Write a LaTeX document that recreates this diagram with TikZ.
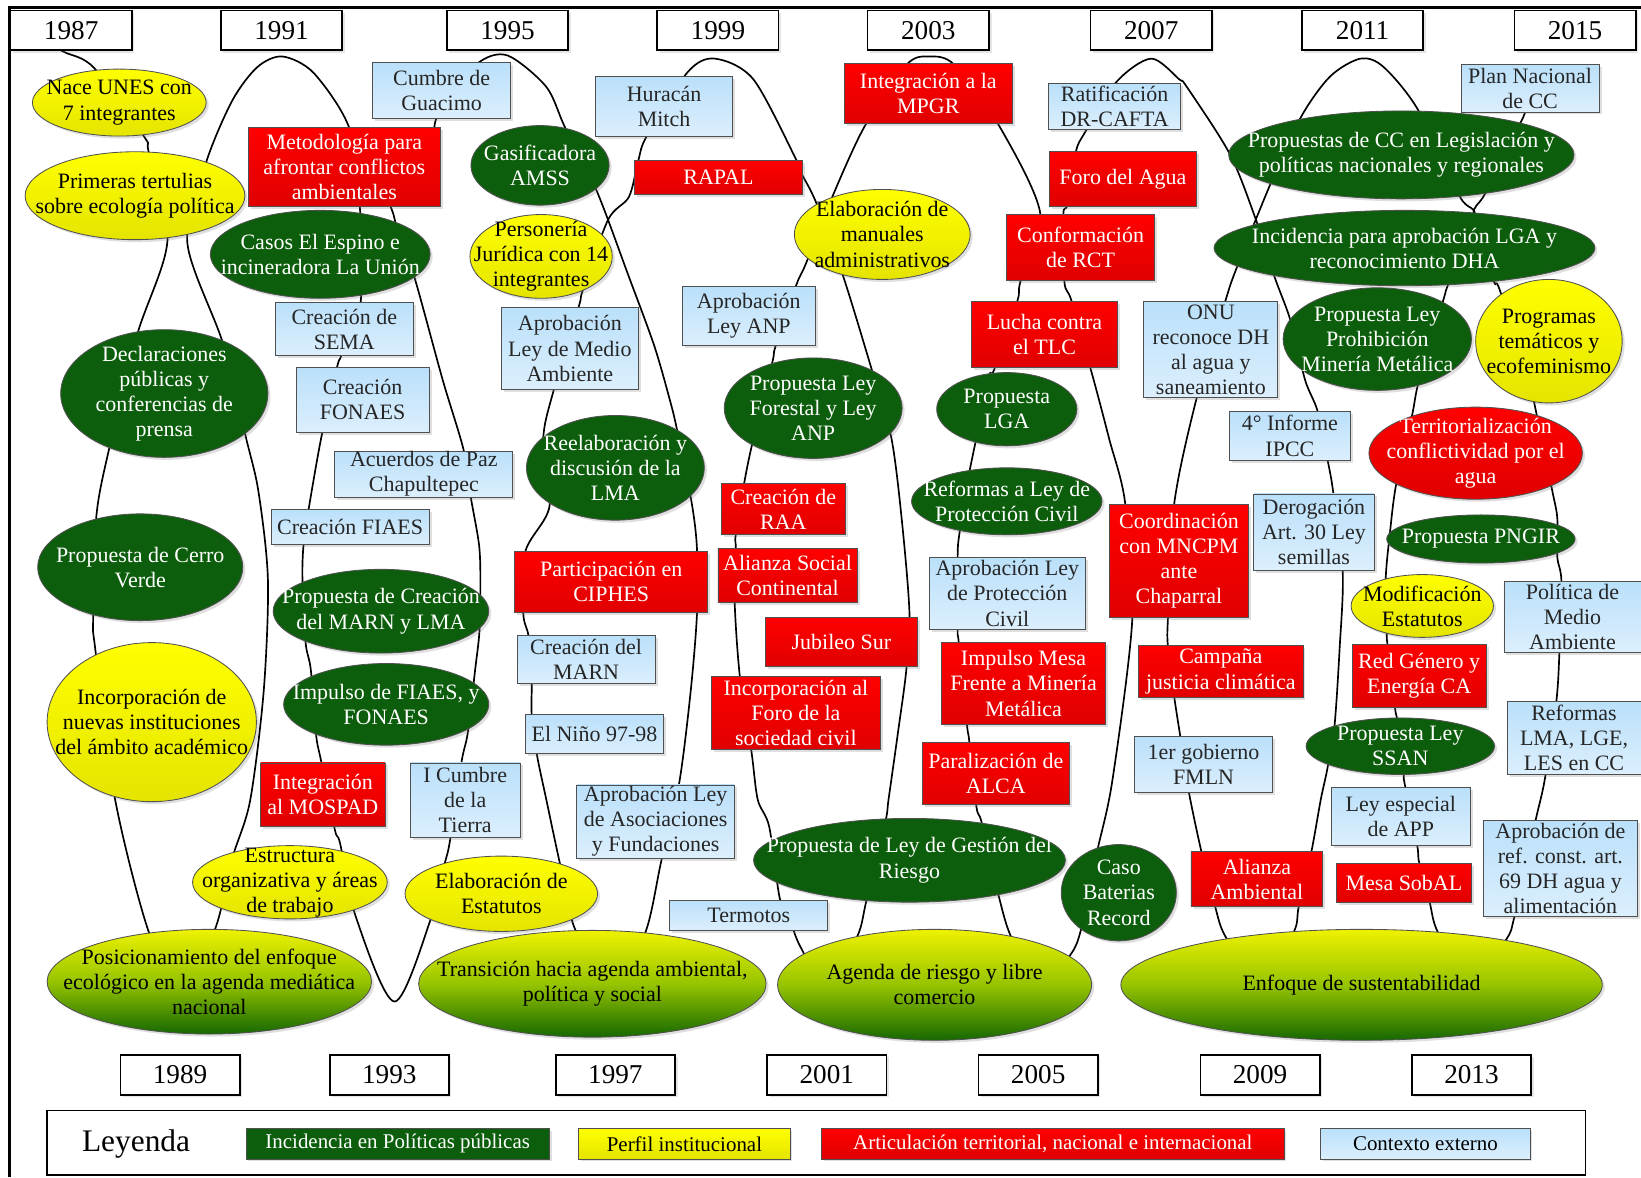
\documentclass[tikz,border=0pt]{standalone}
\usepackage{fontspec}
\setmainfont{Liberation Serif}
\usetikzlibrary{shapes.geometric,shadows}
\pgfdeclarelayer{bg}
\pgfsetlayers{bg,main}
\definecolor{dg}{RGB}{12,94,12}
\definecolor{bd}{RGB}{80,80,80}
\definecolor{yA}{RGB}{255,255,0}
\definecolor{yB}{RGB}{228,228,0}
\definecolor{rA}{RGB}{255,0,0}
\definecolor{rB}{RGB}{224,0,0}
\definecolor{bA}{RGB}{186,224,250}
\definecolor{bB}{RGB}{220,239,253}
\definecolor{gA}{RGB}{238,242,0}
\definecolor{gB}{RGB}{150,196,0}
\definecolor{gC}{RGB}{22,104,0}
\tikzset{
 base/.style={align=center, inner sep=0pt, font=\fontsize{10.5}{12}\selectfont,
   drop shadow={shadow xshift=1.2pt, shadow yshift=-1.2pt, opacity=0.25}},
 txt/.style={align=center, inner sep=0pt, font=\fontsize{10.5}{12}\selectfont},
 sz/.style 2 args={minimum width=#1*0.5pt, minimum height=#2*0.5pt},
 gn/.style={base, ellipse, fill=dg, draw=bd, line width=0.4pt},
 gntxt/.style={txt, text=white},
 yn/.style={base, ellipse, top color=yA, bottom color=yB, draw=bd, line width=0.4pt},
 yntxt/.style={txt, text=black},
 re/.style={base, ellipse, top color=rA, bottom color=rB, draw=bd, line width=0.4pt},
 retxt/.style={txt, text=white},
 big/.style={base, ellipse, top color=gA, bottom color=gC, middle color=gB, draw=bd, line width=0.4pt},
 bigtxt/.style={txt, text=black},
 rn/.style={base, rectangle, top color=rA, bottom color=rB, draw=bd, line width=0.4pt, text=white},
 bn/.style={base, rectangle, top color=bA, bottom color=bB, draw=bd, line width=0.4pt, text=black!85},
 yr/.style={rectangle, draw=black, line width=0.8pt, fill=white, font=\fontsize{13}{15}\selectfont,
   inner sep=0pt, drop shadow={shadow xshift=1.2pt, shadow yshift=-1.2pt, opacity=0.2}},
 lg/.style={rectangle, draw=bd, line width=0.4pt, inner sep=0pt, font=\fontsize{10}{12}\selectfont,
   minimum height=14pt, drop shadow={shadow xshift=1pt, shadow yshift=-1pt, opacity=0.25}},
 wave/.style={line width=0.8pt, black}
}
% ellipse of fixed size with its text on top
\newcommand\mkell[7]{%
  \node[#1, sz={#5}{#6}] (#2) at (#3,#4) {};
  \node[#1txt] (#2t) at (#3,#4) {#7};}
\begin{document}
\begin{tikzpicture}[x={(0.5pt,0)}, y={(0,-0.5pt)}]
\useasboundingbox (0,0) rectangle (1568,1125);
\draw[line width=1.6pt] (9,1125) -- (9,7) -- (1568,7);

% year boxes top
\foreach \n/\x/\t in {y87/68/1987, y91/269/1991, y95/485/1995, y99/686/1999, y03/887/2003, y07/1100/2007, y11/1302/2011, y15/1505/2015}
  \node[yr, sz={116}{38}] (\n) at (\x,29) {\t};
\foreach \n/\x/\t in {y89/172/1989, y93/372/1993, y97/588/1997, y01/790/2001, y05/992/2005, y09/1204/2009, y13/1406/2013}
  \node[yr, sz={114}{38}] (\n) at (\x,1027) {\t};

% legend
\draw[line width=0.8pt] (45,1061) rectangle (1515,1123);
\node[font=\fontsize{15}{17}\selectfont] (leg) at (130,1093) {Leyenda};
\node[lg, fill=dg, text=white, sz={290}{29}] (lgg) at (380,1093) {Incidencia en Políticas públicas};
\node[lg, top color=yA, bottom color=yB, sz={202}{29}] (lgy) at (654,1093) {Perfil institucional};
\node[lg, top color=rA, bottom color=rB, text=white, sz={442}{29}] (lgr) at (1006,1093) {Articulación territorial, nacional e internacional};
\node[lg, top color=bA, bottom color=bB, sz={200}{29}] (lgb) at (1362,1093) {Contexto externo};

% yellow ellipses
\mkell{yn}{nace}{114}{98}{166}{64}{Nace UNES con\\7 integrantes}
\mkell{yn}{prim}{129}{187}{210}{84}{Primeras tertulias\\sobre ecología política}
\mkell{yn}{inc}{145}{690}{200}{152}{Incorporación de\\nuevas instituciones\\del ámbito académico}
\mkell{yn}{estr}{277}{843}{186}{70}{Estructura\\organizativa y áreas\\de trabajo}
\mkell{yn}{elab}{479}{854}{184}{72}{Elaboración de\\Estatutos}
\mkell{yn}{pers}{517}{245}{136}{80}{Personería\\Jurídica con 14\\integrantes}
\mkell{yn}{manu}{843}{224}{168}{86}{Elaboración de\\manuales\\administrativos}
\mkell{yn}{modi}{1359}{579}{136}{60}{Modificación\\Estatutos}
\mkell{yn}{prog}{1480}{326}{140}{118}{Programas\\temáticos y\\ecofeminismo}

% green ellipses
\mkell{gn}{decl}{157}{376}{198}{122}{Declaraciones\\públicas y\\conferencias de\\prensa}
\mkell{gn}{cerro}{134}{542}{196}{102}{Propuesta de Cerro\\Verde}
\mkell{gn}{casos}{306}{243}{210}{84}{Casos El Espino e\\incineradora La Unión}
\mkell{gn}{gasi}{516}{158}{132}{76}{Gasificadora\\AMSS}
\mkell{gn}{pmarn}{364}{584}{206}{80}{Propuesta de Creación\\del MARN y LMA}
\mkell{gn}{impf}{369}{673}{196}{78}{Impulso de FIAES, y\\FONAES}
\mkell{gn}{reel}{588}{447}{170}{100}{Reelaboración y\\discusión de la\\LMA}
\mkell{gn}{fore}{777}{390}{170}{96}{Propuesta Ley\\Forestal y Ley\\ANP}
\mkell{gn}{lga}{962}{391}{134}{70}{Propuesta\\LGA}
\mkell{gn}{refo}{962}{479}{182}{64}{Reformas a Ley de\\Protección Civil}
\mkell{gn}{gest}{869}{822}{298}{80}{Propuesta de Ley de Gestión del\\Riesgo}
\mkell{gn}{caso}{1069}{853}{110}{92}{Caso\\Baterias\\Record}
\mkell{gn}{pcc}{1339}{148}{330}{84}{Propuestas de CC en Legislación y\\políticas nacionales y regionales}
\mkell{gn}{incid}{1342}{237}{364}{72}{Incidencia para aprobación LGA y\\reconocimiento DHA}
\mkell{gn}{proh}{1316}{324}{180}{98}{Propuesta Ley\\Prohibición\\Minería Metálica}
\mkell{gn}{pngir}{1415}{515}{180}{46}{Propuesta PNGIR}
\mkell{gn}{ssan}{1338}{713}{180}{54}{Propuesta Ley\\SSAN}

% red ellipse
\mkell{re}{terr}{1410}{433}{204}{88}{Territorialización\\conflictividad por el\\agua}

% red boxes
\node[rn, sz={184}{75}] (meto) at (329,159.5) {Metodología para\\afrontar conflictos\\ambientales};
\node[rn, sz={119}{61}] (mosp) at (308.5,759.5) {Integración\\al MOSPAD};
\node[rn, sz={184}{58}] (ciph) at (584,556) {Participación en\\CIPHES};
\node[rn, sz={161}{33}] (rapal) at (686.5,169.5) {RAPAL};
\node[rn, sz={119}{49}] (raa) at (748.5,486.5) {Creación de\\RAA};
\node[rn, sz={133}{52}] (asc) at (752.5,550) {Alianza Social\\Continental};
\node[rn, sz={146}{47}] (jub) at (804,613.5) {Jubileo Sur};
\node[rn, sz={161}{70}] (foro) at (760.5,681) {Incorporación al\\Foro de la\\sociedad civil};
\node[rn, sz={160}{57}] (mpgr) at (887,89.5) {Integración a la\\MPGR};
\node[rn, sz={140}{63}] (tlc) at (998,319.5) {Lucha contra\\el TLC};
\node[rn, sz={156}{78}] (mesa) at (978,653) {Impulso Mesa\\Frente a Minería\\Metálica};
\node[rn, sz={141}{60}] (alca) at (951.5,739) {Paralización de\\ALCA};
\node[rn, sz={140}{52}] (fagua) at (1073,171) {Foro del Agua};
\node[rn, sz={141}{63}] (rct) at (1032.5,236.5) {Conformación\\de RCT};
\node[rn, sz={133}{108}] (coord) at (1126.5,536) {Coordinación\\con MNCPM\\ante\\Chaparral};
\node[rn, sz={157}{49}] (camp) at (1166.5,641.5) {Campaña\\justicia climática};
\node[rn, sz={126}{52}] (alam) at (1201,840) {Alianza\\Ambiental};
\node[rn, sz={128}{60}] (rgen) at (1356,646) {Red Género y\\Energía CA};
\node[rn, sz={129}{37}] (sobal) at (1341.5,843.5) {Mesa SobAL};

% blue boxes
\node[bn, sz={132}{53}] (guac) at (422,86.5) {Cumbre de\\Guacimo};
\node[bn, sz={132}{51}] (sema) at (329,314.5) {Creación de\\SEMA};
\node[bn, sz={127}{62}] (fonaes) at (346.5,382) {Creación\\FONAES};
\node[bn, sz={170}{44}] (paz) at (405,453) {Acuerdos de Paz\\Chapultepec};
\node[bn, sz={151}{33}] (fiaes) at (334.5,503.5) {Creación FIAES};
\node[bn, sz={105}{71}] (cumt) at (444.5,764.5) {I Cumbre\\de la\\Tierra};
\node[bn, sz={131}{78}] (lma) at (544.5,333) {Aprobación\\Ley de Medio\\Ambiente};
\node[bn, sz={132}{46}] (marn) at (560,630) {Creación del\\MARN};
\node[bn, sz={132}{37}] (nino) at (568,701.5) {El Niño 97-98};
\node[bn, sz={151}{70}] (asoc) at (626.5,785) {Aprobación Ley\\de Asociaciones\\y Fundaciones};
\node[bn, sz={131}{57}] (mitch) at (634.5,101.5) {Huracán\\Mitch};
\node[bn, sz={127}{56}] (anp) at (715.5,302) {Aprobación\\Ley ANP};
\node[bn, sz={151}{29}] (termo) at (715.5,874.5) {Termotos};
\node[bn, sz={149}{68}] (lpc) at (962.5,567) {Aprobación Ley\\de Protección\\Civil};
\node[bn, sz={126}{44}] (cafta) at (1065,102) {Ratificación\\DR-CAFTA};
\node[bn, sz={128}{92}] (onu) at (1157,334) {ONU\\reconoce DH\\al agua y\\saneamiento};
\node[bn, sz={115}{47}] (ipcc) at (1232.5,416.5) {4° Informe\\IPCC};
\node[bn, sz={115}{73}] (dero) at (1255.5,508.5) {Derogación\\Art. 30 Ley\\semillas};
\node[bn, sz={132}{53}] (fmln) at (1150,730.5) {1er gobierno\\FMLN};
\node[bn, sz={133}{56}] (app) at (1338.5,780) {Ley especial\\de APP};
\node[bn, sz={132}{45}] (pncc) at (1462,84.5) {Plan Nacional\\de CC};
\node[bn, sz={131}{67}] (pol) at (1502.5,589.5) {Política de\\Medio\\Ambiente};
\node[bn, sz={128}{70}] (rlma) at (1504,705) {Reformas\\LMA, LGE,\\LES en CC};
\node[bn, sz={148}{92}] (ref69) at (1491,830) {Aprobación de\\ref. const. art.\\69 DH agua y\\alimentación};

% big period ellipses
\mkell{big}{pos}{200}{938}{310}{100}{Posicionamiento del enfoque\\ecológico en la agenda mediática\\nacional}
\mkell{big}{tran}{566}{940}{332}{102}{Transición hacia agenda ambiental,\\política y social}
\mkell{big}{agen}{893}{941}{300}{106}{Agenda de riesgo y libre\\comercio}
\mkell{big}{enf}{1301}{941}{460}{106}{Enfoque de sustentabilidad}

% the wave behind the nodes
\begin{pgfonlayer}{bg}
\fill[white] (0,0) rectangle (1568,1125);
\draw[wave] plot[smooth, tension=0.5] coordinates {
(45,42) (62,50) (90,65) (138,131) (142,145) (160,230) (131,320) (104,430) (92,494) (89,591) (91,620) (110,764) (142,890) (172,942)
(205,889) (222,820) (239,765) (252,660) (256,554) (247,470) (235,418) (213,328) (179,232) (197,155) (222,96) (246,64) (270,54)
(300,70) (334,123) (344,200) (345,284) (338,305) (326,340) (322,351) (307,418) (295,486) (290,521) (289,554) (292,614) (297,640) (302,702) (307,728) (320,793) (325,806) (340,876) (377,957)
(412,877) (425,825) (430,803) (441,728) (447,700) (454,640) (458,605) (459,567) (458,523) (450,476) (443,430) (423,363) (396,265) (384,235) (376,205) (372,186) (392,150) (413,126) (416,116) (424,98) (457,60) (485,53)
(522,83) (540,122) (570,182) (600,262) (625,330) (640,382) (647,411) (661,481) (666,525) (666,586) (660,660) (649,748) (632,822) (617,890) (588,942)
(550,889) (535,825) (522,764) (513,721) (508,682) (508,651) (505,608) (500,586) (502,527) (525,484) (519,420) (529,373) (553,293) (557,277) (581,210) (601,188) (610,153) (618,130) (657,69) (683,56)
(720,76) (761,153) (766,166) (780,194) (806,265) (835,360) (852,420) (862,500) (869,586) (866,640) (858,700) (849,764) (846,785) (828,860) (819,895) (790,942)
(765,905) (755,880) (745,858) (735,790) (724,764) (718,718) (707,647) (702,576) (703,524) (703,511) (711,462) (719,423) (738,346) (741,331) (761,272) (770,252) (794,191) (826,121) (866,62) (888,54)
(912,62) (954,119) (994,204) (975,269) (972,288) (950,353) (945,360) (932,423) (927,447) (917,508) (915,532) (915,602) (916,613) (924,693) (926,707) (933,771) (938,786) (954,855) (966,895) (992,942)
(1023,912) (1034,884) (1048,815) (1063,745) (1082,590) (1075,480) (1060,420) (1045,363) (1024,288) (1017,269) (1016,205) (1020,195) (1028,145) (1037,126) (1067,78) (1100,56)
(1127,76) (1134,83) (1175,147) (1199,207) (1218,265) (1233,306) (1247,363) (1259,393) (1269,442) (1274,471) (1283,547) (1280,620) (1275,695) (1268,736) (1262,764) (1253,814) (1241,866) (1236,891) (1204,942)
(1171,895) (1161,866) (1148,814) (1136,757) (1128,705) (1122,666) (1116,618) (1116,590) (1122,481) (1143,382) (1171,287) (1182,255) (1213,178) (1243,112) (1271,73) (1300,56)
(1322,64) (1355,105) (1395,188) (1409,207) (1384,271) (1379,287) (1356,363) (1349,398) (1334,463) (1328,510) (1324,554) (1325,605) (1326,618) (1333,677) (1335,688) (1341,739) (1342,748) (1354,807) (1356,824) (1366,862) (1374,891) (1406,942)
(1439,898) (1447,876) (1467,785) (1476,745) (1487,671) (1490,624) (1492,556) (1488,532) (1488,495) (1483,468) (1466,385) (1464,373) (1433,277) (1427,268) (1408,207) (1419,185) (1452,119) (1457,108) (1470,75)
};
\end{pgfonlayer}
\end{tikzpicture}
\end{document}
